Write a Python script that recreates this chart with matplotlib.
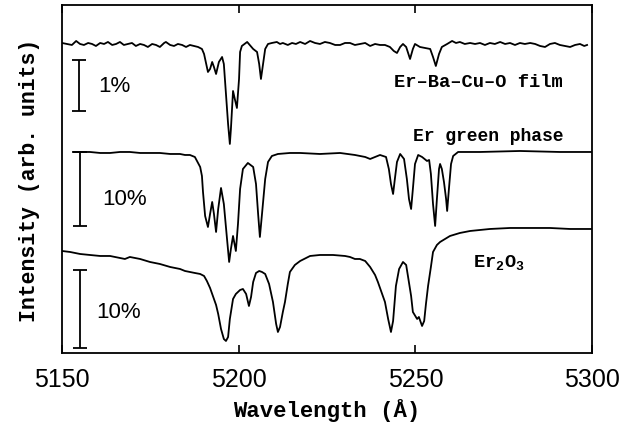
import matplotlib.pyplot as plt

plt.rcParams['mathtext.fontset'] = 'custom'
plt.rcParams['mathtext.rm'] = 'Liberation Mono:bold'
plt.rcParams['mathtext.it'] = 'Liberation Mono:bold'
plt.rcParams['mathtext.bf'] = 'Liberation Mono:bold'

# Er-Ba-Cu-O film (top trace)
film_wl = [5150.0, 5151.4, 5152.8, 5154.0, 5155.1, 5156.2, 5157.4, 5158.5, 5159.6, 5160.8,
           5161.9, 5163.0, 5164.2, 5165.3, 5166.4, 5167.5, 5168.7, 5169.8, 5170.9, 5172.1,
           5173.2, 5174.3, 5175.5, 5176.6, 5177.7, 5178.9, 5179.4, 5180.6, 5181.7, 5182.8,
           5184.0, 5185.1, 5186.2, 5187.4, 5188.5, 5189.6, 5190.2, 5190.7, 5191.3, 5191.9,
           5192.5, 5193.0, 5193.6, 5194.4, 5195.3, 5195.8, 5196.4, 5197.0, 5197.5, 5197.8,
           5198.4, 5198.9, 5199.5, 5200.1, 5200.4, 5200.9, 5202.4, 5204.1, 5205.2, 5205.8,
           5206.3, 5206.9, 5207.5, 5208.3, 5209.4, 5210.8, 5211.7, 5212.5, 5213.9, 5215.1,
           5216.2, 5217.4, 5218.8, 5220.2, 5221.6, 5223.0, 5224.4, 5225.8, 5227.3, 5228.7,
           5230.1, 5231.5, 5232.9, 5234.3, 5235.8, 5237.2, 5238.6, 5240.0, 5241.4, 5242.8,
           5243.9, 5244.8, 5245.7, 5246.5, 5247.4, 5248.5, 5249.3, 5249.9, 5251.3, 5252.7,
           5254.2, 5255.0, 5255.8, 5256.7, 5257.5, 5259.0, 5260.4, 5261.5, 5262.6, 5264.0,
           5265.5, 5266.9, 5268.3, 5269.7, 5271.1, 5272.5, 5274.0, 5275.4, 5276.8, 5278.2,
           5279.6, 5281.0, 5282.5, 5283.9, 5285.3, 5286.7, 5288.1, 5289.5, 5290.9, 5292.4,
           5293.8, 5295.2, 5296.6, 5297.8, 5298.6]
film_int = [310, 309, 308, 312, 309, 308, 310, 309, 307, 310,
            309, 311, 308, 309, 311, 308, 309, 310, 307, 309,
            308, 306, 309, 308, 306, 310, 311, 308, 307, 309,
            308, 306, 308, 307, 306, 304, 299, 291, 281, 284,
            291, 286, 279, 291, 296, 289, 259, 229, 209, 224,
            262, 254, 245, 274, 301, 307, 311, 304, 301, 289,
            274, 289, 304, 309, 310, 311, 309, 310, 308, 310,
            309, 311, 309, 312, 310, 309, 311, 310, 308, 308,
            310, 310, 308, 309, 310, 307, 309, 308, 308, 306,
            302, 300, 306, 309, 306, 294, 304, 309, 306, 305,
            304, 296, 287, 299, 306, 309, 312, 310, 311, 309,
            310, 309, 310, 308, 310, 309, 311, 309, 310, 308,
            310, 309, 310, 309, 307, 306, 309, 310, 308, 307,
            306, 308, 309, 307, 308]

# Er green phase (middle trace)
green_wl = [5153.1, 5155.1, 5157.9, 5160.8, 5163.6, 5166.4, 5169.2, 5172.1, 5174.9, 5177.7,
            5180.6, 5183.4, 5184.8, 5186.2, 5187.6, 5188.2, 5189.1, 5189.6, 5189.9, 5190.5,
            5191.3, 5191.9, 5192.5, 5193.0, 5193.6, 5194.2, 5195.0, 5195.8, 5196.7, 5197.3,
            5197.8, 5198.4, 5199.2, 5199.8, 5200.4, 5201.2, 5202.6, 5204.1, 5204.9, 5205.5,
            5206.0, 5206.6, 5207.5, 5208.3, 5209.4, 5211.1, 5214.5, 5217.4, 5223.0, 5228.7,
            5232.9, 5235.8, 5237.2, 5238.6, 5240.0, 5241.7, 5242.5, 5243.1, 5243.7, 5244.2,
            5244.8, 5245.7, 5246.8, 5247.6, 5248.2, 5248.8, 5249.3, 5249.9, 5250.8, 5251.9,
            5253.3, 5253.9, 5254.4, 5255.0, 5255.6, 5256.1, 5256.7, 5257.0, 5257.5, 5258.1,
            5258.7, 5259.0, 5259.5, 5260.1, 5260.7, 5262.1, 5268.3, 5279.6, 5290.9, 5300.0]
green_int = [201, 201, 201, 200, 200, 201, 201, 200, 200, 200,
             199, 199, 198, 198, 196, 192, 186, 177, 161, 137,
             126, 139, 151, 139, 121, 144, 165, 149, 114, 91,
             104, 117, 102, 129, 164, 184, 190, 186, 169, 139,
             116, 139, 174, 191, 197, 199, 200, 200, 199, 200,
             198, 196, 194, 196, 198, 196, 184, 169, 159, 174,
             191, 199, 194, 174, 154, 144, 164, 189, 198, 196,
             192, 193, 179, 149, 127, 154, 184, 189, 184, 171,
             154, 142, 164, 189, 197, 201, 201, 202, 201, 201]

# Er2O3 (bottom trace)
oxide_wl = [5150.0, 5152.3, 5155.1, 5157.9, 5160.8, 5163.6, 5166.4, 5167.8, 5169.2, 5172.1,
            5174.9, 5177.7, 5180.6, 5183.4, 5184.8, 5186.2, 5187.6, 5189.1, 5190.2, 5191.0,
            5191.9, 5192.7, 5193.6, 5194.2, 5195.0, 5195.8, 5196.4, 5197.0, 5197.5, 5198.4,
            5199.2, 5200.4, 5201.2, 5202.1, 5202.9, 5203.5, 5204.1, 5204.9, 5205.8, 5206.6,
            5207.5, 5208.6, 5209.7, 5210.6, 5211.1, 5211.7, 5212.5, 5213.1, 5213.9, 5214.5,
            5215.9, 5217.4, 5220.2, 5223.0, 5226.7, 5230.1, 5231.5, 5232.9, 5234.3, 5235.8,
            5237.2, 5238.6, 5239.4, 5240.6, 5241.4, 5242.3, 5243.1, 5243.7, 5244.5, 5245.4,
            5246.5, 5247.4, 5247.9, 5248.8, 5249.3, 5250.5, 5251.0, 5251.9, 5252.5, 5253.0,
            5253.6, 5254.4, 5255.0, 5256.1, 5257.0, 5258.4, 5259.8, 5262.6, 5265.5, 5271.1,
            5276.8, 5282.5, 5288.1, 5293.8, 5300.0]
oxide_int = [102, 101, 99, 98, 97, 97, 95, 94, 96, 94,
             91, 89, 86, 84, 82, 81, 80, 79, 77, 72,
             65, 57, 48, 39, 24, 14, 12, 16, 34, 54,
             59, 63, 64, 59, 47, 56, 71, 80, 82, 81,
             79, 69, 51, 29, 21, 26, 41, 51, 69, 81,
             88, 92, 97, 98, 98, 97, 96, 94, 94, 92,
             86, 78, 71, 59, 51, 34, 21, 32, 67, 84,
             91, 88, 77, 57, 41, 34, 36, 27, 32, 49,
             67, 86, 101, 108, 111, 114, 117, 120, 122, 124,
             125, 125, 125, 124, 124]

# scale bars: (position, bottom, top, label)
bar_wl = [5154.8, 5155.1, 5155.1]
bar_lo = [242, 127, 5]
bar_hi = [293, 201, 83]
bar_txt = ['1%', '10%', '10%']
bar_txt_wl = [5160.2, 5161.3, 5159.6]
bar_txt_int = [267, 154, 41]

fig = plt.figure(figsize=(6.29, 4.27), dpi=100)
ax = fig.add_axes([0.0986, 0.171, 0.8426, 0.815])

lw = 1.3
for wl, inten in [(film_wl, film_int), (green_wl, green_int), (oxide_wl, oxide_int)]:
    ax.plot(wl, inten, color='black', lw=lw, solid_joinstyle='round')

for x, lo, hi, t, tx, ty in zip(bar_wl, bar_lo, bar_hi, bar_txt, bar_txt_wl, bar_txt_int):
    ax.errorbar([x], [(lo + hi) / 2], yerr=[(hi - lo) / 2], color='black',
                capsize=5, elinewidth=1.3, capthick=1.3, fmt='none')
    ax.text(tx, ty, t, fontsize=16, family='Liberation Sans', va='center', ha='left')

ax.text(5291.8, 271, 'Er\u2013Ba\u2013Cu\u2013O film', fontsize=13.5, family='Liberation Mono',
        weight='bold', ha='right', va='center')
ax.text(5291.8, 217, 'Er green phase', fontsize=13, family='Liberation Mono',
        weight='bold', ha='right', va='center')
ax.text(5266.3, 91, r'$\mathrm{Er}_2\mathrm{O}_3$', fontsize=13.5, ha='left', va='center')

ax.set_xlim(5150, 5300)
ax.set_ylim(0, 348)
ax.set_xticks([5150, 5200, 5250, 5300])
ax.set_yticks([])
ax.tick_params(axis='x', direction='in', top=True, length=6, width=1.2, pad=10,
               labelsize=18)
for lab in ax.get_xticklabels():
    lab.set_family('Liberation Sans')
for s in ax.spines.values():
    s.set_linewidth(1.3)

ax.set_xlabel('Wavelength (\u00c5)', fontsize=16, family='Liberation Mono',
              weight='bold', labelpad=5)
ax.set_ylabel('Intensity (arb. units)', fontsize=15.5, family='Liberation Mono',
              weight='bold', labelpad=16)

fig.savefig('out.png', dpi=100)
